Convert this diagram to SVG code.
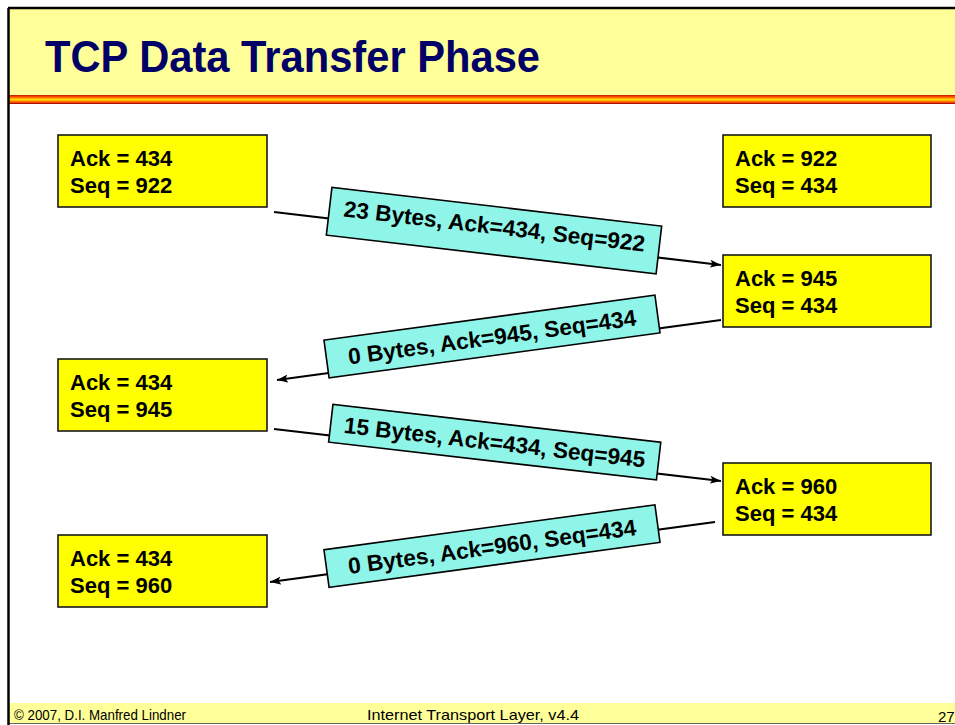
<svg xmlns="http://www.w3.org/2000/svg" width="955" height="725" viewBox="0 0 955 725">
  <style>
    .node rect { fill: #FFFF00; stroke: #1a1a1a; stroke-width: 1.6; }
    .node text { font-family: "Liberation Sans", Arial, sans-serif; font-weight: bold; font-size: 22px; fill: #000; }
    .conn line { stroke: #000; stroke-width: 2.2; marker-end: url(#arr); }
    .lbl rect { fill: #8FF5E8; stroke: #000; stroke-width: 1.6; }
    .lbl text { font-family: "Liberation Sans", Arial, sans-serif; font-weight: bold; font-size: 22.7px; fill: #000; text-anchor: middle; }
    .foot { font-family: "Liberation Sans", Arial, sans-serif; font-size: 15px; fill: #000; }
  </style>
  <defs>
    <linearGradient id="stripe" x1="0" y1="0" x2="0" y2="1">
      <stop offset="0" stop-color="#B81800"/>
      <stop offset="0.18" stop-color="#FF4400"/>
      <stop offset="0.4" stop-color="#FFAA00"/>
      <stop offset="0.5" stop-color="#FFDD00"/>
      <stop offset="0.62" stop-color="#FFAA00"/>
      <stop offset="0.82" stop-color="#FF4400"/>
      <stop offset="1" stop-color="#8C0000"/>
    </linearGradient>
    <marker id="arr" markerUnits="userSpaceOnUse" markerWidth="12" markerHeight="9" refX="11" refY="4" orient="auto">
      <path d="M0,0 L11,4 L0,8 L2.5,4 z" fill="#000"/>
    </marker>
  </defs>

  <rect x="0" y="0" width="955" height="725" fill="#FFFFFF"/>

  <!-- title area -->
  <rect x="9" y="9" width="946" height="86" fill="#FFFF99"/>
  <rect x="9" y="95" width="946" height="9" fill="url(#stripe)"/>
  <line x1="8" y1="8" x2="955" y2="8" stroke="#000" stroke-width="2.5"/>
  <text x="45" y="72" font-family="Liberation Sans, Arial, sans-serif" font-weight="bold" font-size="45" fill="#000066" textLength="495" lengthAdjust="spacingAndGlyphs">TCP Data Transfer Phase</text>

  <!-- footer -->
  <rect x="9" y="703" width="946" height="20" fill="#FFFF99"/>
  <line x1="9" y1="723.5" x2="955" y2="723.5" stroke="#666" stroke-width="1"/>
  <text class="foot" x="14" y="720" textLength="172" lengthAdjust="spacingAndGlyphs">© 2007, D.I. Manfred Lindner</text>
  <text class="foot" x="367" y="720" font-size="16" textLength="212" lengthAdjust="spacingAndGlyphs">Internet Transport Layer, v4.4</text>
  <text class="foot" x="938" y="722" font-size="20">27</text>

  <line x1="8.5" y1="8" x2="8.5" y2="725" stroke="#000" stroke-width="2.5"/>

  <!-- nodes -->
  <g id="node-l1" class="node">
    <rect x="58" y="135" width="209" height="72"/>
    <text x="70" y="166">Ack = 434</text>
    <text x="70" y="193">Seq = 922</text>
  </g>
  <g id="node-r1" class="node">
    <rect x="723" y="135" width="208" height="72"/>
    <text x="735" y="166">Ack = 922</text>
    <text x="735" y="193">Seq = 434</text>
  </g>
  <g id="node-r2" class="node">
    <rect x="723" y="255" width="208" height="72"/>
    <text x="735" y="286">Ack = 945</text>
    <text x="735" y="313">Seq = 434</text>
  </g>
  <g id="node-l2" class="node">
    <rect x="58" y="359" width="209" height="72"/>
    <text x="70" y="390">Ack = 434</text>
    <text x="70" y="417">Seq = 945</text>
  </g>
  <g id="node-r3" class="node">
    <rect x="723" y="463" width="208" height="72"/>
    <text x="735" y="494">Ack = 960</text>
    <text x="735" y="521">Seq = 434</text>
  </g>
  <g id="node-l3" class="node">
    <rect x="58" y="535" width="209" height="72"/>
    <text x="70" y="566">Ack = 434</text>
    <text x="70" y="593">Seq = 960</text>
  </g>

  <!-- connectors -->
  <g id="connectors" class="conn">
    <line x1="274" y1="212" x2="721" y2="265"/>
    <line x1="721" y1="320" x2="277" y2="380"/>
    <line x1="274" y1="429" x2="721" y2="481"/>
    <line x1="715" y1="522" x2="270" y2="582"/>

    <g class="lbl" transform="translate(494,230.6) rotate(6.69)">
      <rect x="-166" y="-24" width="332" height="48"/>
      <text x="0" y="3.5">23 Bytes, Ack=434, Seq=922</text>
    </g>
    <g class="lbl" transform="translate(492,336.5) rotate(-7.74)">
      <rect x="-167" y="-19" width="334" height="38"/>
      <text x="0" y="8.5">0 Bytes, Ack=945, Seq=434</text>
    </g>
    <g class="lbl" transform="translate(494.7,442.2) rotate(6.58)">
      <rect x="-165" y="-19" width="330" height="38"/>
      <text x="0" y="8">15 Bytes, Ack=434, Seq=945</text>
    </g>
    <g class="lbl" transform="translate(492,546.1) rotate(-7.74)">
      <rect x="-167" y="-19" width="334" height="38"/>
      <text x="0" y="8.5">0 Bytes, Ack=960, Seq=434</text>
    </g>
  </g>
</svg>
